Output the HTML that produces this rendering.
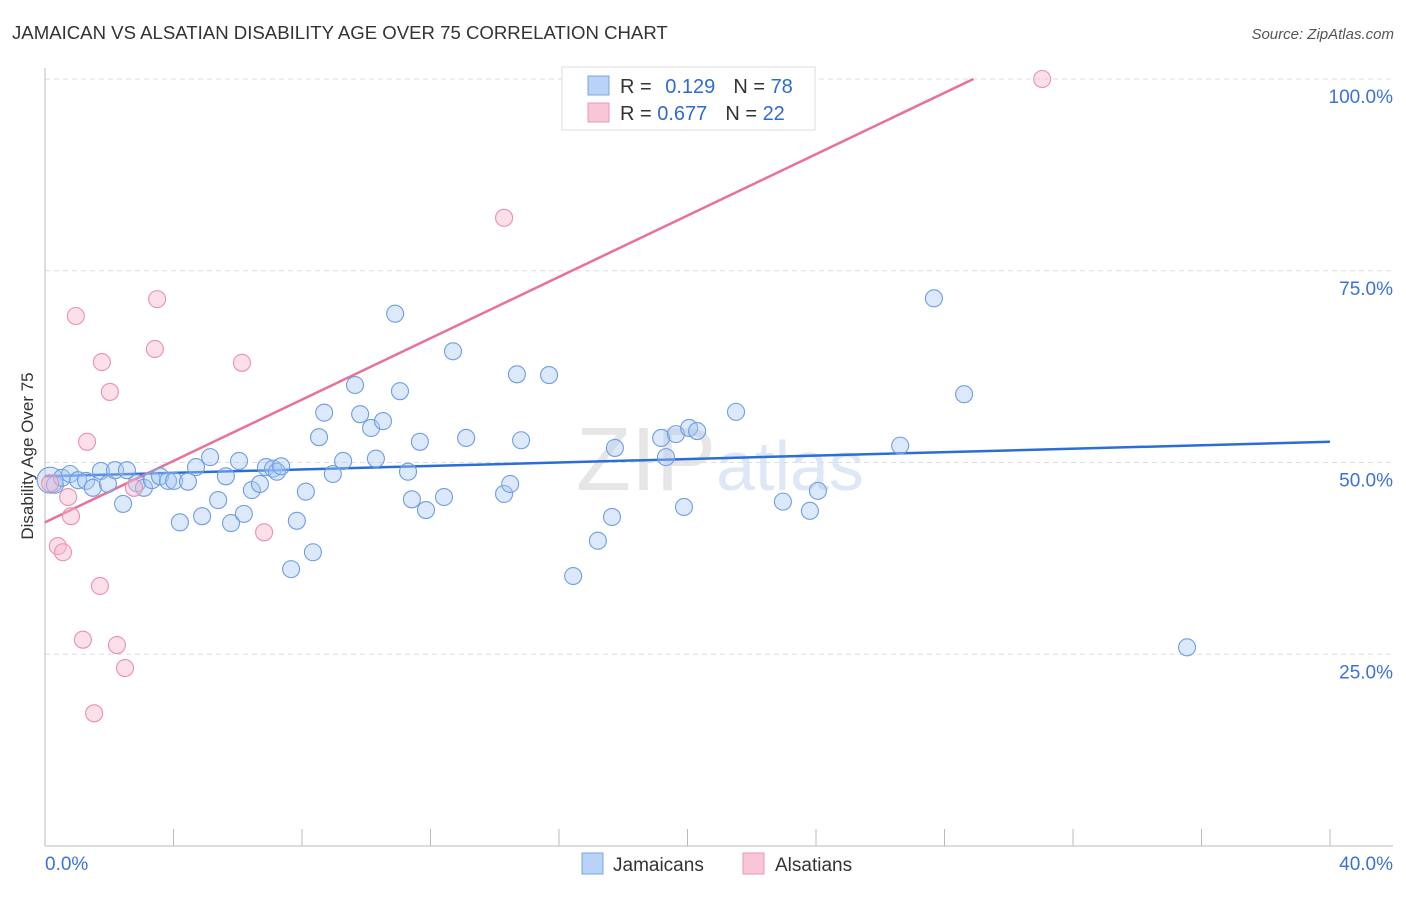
<!DOCTYPE html>
<html><head><meta charset="utf-8">
<style>
body{margin:0;background:#fff;font-family:"Liberation Sans",sans-serif;}
svg text{font-family:"Liberation Sans",sans-serif;}
</style></head>
<body>
<svg id="chart" width="1406" height="892" xmlns="http://www.w3.org/2000/svg">
<text x="12" y="39" font-size="18.6" fill="#333">JAMAICAN VS ALSATIAN DISABILITY AGE OVER 75 CORRELATION CHART</text>
<text x="1394" y="39" font-size="15" fill="#555" text-anchor="end" font-style="italic">Source: ZipAtlas.com</text>
<text x="33" y="456" font-size="17" fill="#333" text-anchor="middle" transform="rotate(-90 33 456)">Disability Age Over 75</text>
<text x="720" y="490" font-size="90" fill="#e6e6e6" text-anchor="middle" font-family="Liberation Serif">ZIP<tspan fill="#dde7f6" font-family="Liberation Sans" font-size="70">atlas</tspan></text>
<g id="grid"></g>
<g id="trend"></g>
<g id="points"></g>
<g>
<rect x="562" y="67" width="253" height="63" fill="#fff" stroke="#ddd"/>
<rect x="588" y="76" width="21" height="19" fill="#b8d3f5" stroke="#7aa5e6"/>
<rect x="588" y="103" width="21" height="19" fill="#f9c6d6" stroke="#ec97b4"/>
<text x="620" y="93" font-size="20" fill="#333">R = <tspan fill="#2e6bd0" dx="8">0.129</tspan><tspan fill="#333" dx="18">N = </tspan><tspan fill="#2e6bd0">78</tspan></text>
<text x="620" y="120" font-size="20" fill="#333">R = <tspan fill="#2e6bd0">0.677</tspan><tspan fill="#333" dx="18">N = </tspan><tspan fill="#2e6bd0">22</tspan></text>
</g>
<g>
<rect x="582" y="853" width="21" height="21" fill="#b8d3f5" stroke="#7aa5e6"/>
<text x="613" y="871" font-size="19" fill="#333">Jamaicans</text>
<rect x="743" y="853" width="21" height="21" fill="#f9c6d6" stroke="#ec97b4"/>
<text x="775" y="871" font-size="19" fill="#333">Alsatians</text>
</g>
</svg>
<script>
const yTicks=[25,50,75,100];
const yTickLabels=["25.0%","50.0%","75.0%","100.0%"];
const xTicks=[0,4,8,12,16,20,24,28,32,36,40];
const jamX=[0.16,0.31,0.53,0.78,1.03,1.28,1.49,1.74,1.96,2.18,2.43,2.55,2.86,3.08,3.33,3.58,3.83,4.02,4.20,4.45,4.70,4.89,5.14,5.39,5.63,5.79,6.04,6.19,6.44,6.69,6.88,7.10,7.22,7.35,7.66,7.84,8.12,8.34,8.53,8.69,8.96,9.28,9.65,9.81,10.15,10.30,10.52,10.90,11.05,11.30,11.42,11.67,11.86,12.42,12.70,13.11,14.29,14.48,14.69,14.82,15.69,16.44,17.21,17.65,17.74,19.18,19.33,19.64,19.89,20.05,20.30,21.51,22.97,23.81,24.06,26.62,27.67,28.61,35.55];
const jamY=[47.7,47.1,48.0,48.5,47.7,47.6,46.7,48.9,47.2,49.0,44.6,49.0,47.3,46.7,47.7,48.2,47.6,47.6,42.2,47.5,49.4,43.0,50.7,45.1,48.2,42.1,50.2,43.3,46.4,47.2,49.4,49.2,48.8,49.5,36.1,42.4,46.2,38.3,53.3,56.5,48.5,50.2,60.1,56.3,54.5,50.5,55.4,69.4,59.3,48.8,45.2,52.7,43.8,45.5,64.5,53.2,45.9,47.2,61.5,52.9,61.4,35.2,39.8,42.9,51.9,53.2,50.7,53.7,44.2,54.5,54.1,56.6,44.9,43.7,46.3,52.2,71.4,58.9,25.9];
const alsX=[0.16,0.96,1.77,2.02,1.31,3.49,3.42,6.13,6.82,14.29,31.04,0.40,0.56,0.72,0.81,1.71,1.18,2.24,2.49,1.53,2.77];
const alsY=[47.3,69.1,63.1,59.2,52.7,71.3,64.8,63.0,40.9,81.9,100.0,39.1,38.3,45.5,43.0,33.9,26.9,26.2,23.2,17.3,46.7];
const jamTrend=[48.2,52.7];   // y at x=0 and x=40
const alsTrend=[42.2,2.0];    // intercept, slope
const NS="http://www.w3.org/2000/svg";
const X=v=>45+v/40*1285, Y=v=>846-v*7.67;
function mk(tag,attrs,parent){const e=document.createElementNS(NS,tag);for(const k in attrs)e.setAttribute(k,attrs[k]);parent.appendChild(e);return e;}
const grid=document.getElementById('grid'),trend=document.getElementById('trend'),pts=document.getElementById('points');
yTicks.forEach((t,i)=>{
 const l=mk('line',{x1:45,x2:1393,y1:Y(t),y2:Y(t),stroke:'#ddd','stroke-dasharray':'5,4'},grid);
 
 
 const tx=mk('text',{x:1393,y:Y(t)+24,'font-size':19,fill:'#3b72d6','text-anchor':'end'},grid);
 tx.textContent=yTickLabels[i];
 
 
});
const ax=mk('line',{x1:45,x2:1393,y1:846,y2:846,stroke:'#bbb'},grid);


const ay=mk('line',{x1:45,x2:45,y1:68,y2:846,stroke:'#bbb'},grid);


xTicks.forEach(t=>{
 const l=mk('line',{x1:X(t),x2:X(t),y1:829,y2:846,stroke:'#bbb'},grid);
 
 
});
[[0,'0.0%','start',45],[40,'40.0%','end',1393]].forEach(a=>{
 const tx=mk('text',{x:a[3],y:870,'font-size':19,fill:'#3b72d6','text-anchor':a[2]},grid);
 tx.textContent=a[1];
 
 
});
const jl=mk('line',{x1:X(0),y1:Y(jamTrend[0]),x2:X(40),y2:Y(jamTrend[1]),stroke:'#2b6fd6','stroke-width':2.5},trend);


const xe=(100-alsTrend[0])/alsTrend[1];
const pl=mk('line',{x1:X(0),y1:Y(alsTrend[0]),x2:X(xe),y2:Y(100),stroke:'#e8709a','stroke-width':2.5},trend);


jamX.forEach((x,i)=>{
 const c=mk('circle',{cx:X(x),cy:Y(jamY[i]),r:i==0?13:8.5,fill:'rgba(168,200,242,0.4)',stroke:'#6f9de3','stroke-width':1.1},pts);
 
 
});
alsX.forEach((x,i)=>{
 const c=mk('circle',{cx:X(x),cy:Y(alsY[i]),r:8.5,fill:'rgba(247,185,206,0.45)',stroke:'#ea90b0','stroke-width':1.1},pts);
 
 
});
</script>
</body></html>
